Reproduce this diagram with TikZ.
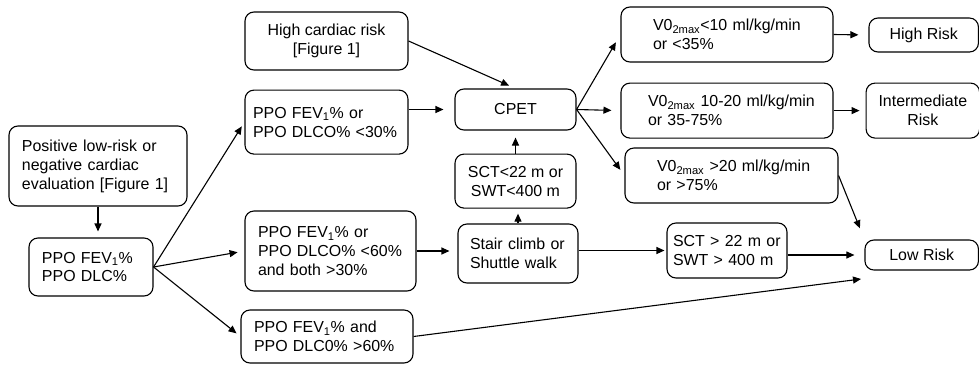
\documentclass[tikz,border=0pt]{standalone}
\usepackage{fontspec}
\setmainfont{Liberation Sans}
\usetikzlibrary{arrows.meta}
\usetikzlibrary{positioning}

\tikzset{
  box/.style={draw, rounded corners=9bp, line width=1.1bp, inner ysep=0bp,
    font=\fontsize{16}{19}\selectfont},
  lbox/.style={box, align=left},
  cbox/.style={box, align=center},
  flow/.style={-{Triangle[length=8bp,width=7bp]}, line width=1.1bp},
}

\begin{document}
\begin{tikzpicture}[x=1bp, y=-1bp]
    \useasboundingbox (0,0) rectangle (979,364);

    % left column
    \node[lbox, inner xsep=13bp, text width=152bp, minimum height=80bp] (pos) at (98,166)
      {Positive low-risk or\\negative cardiac\\evaluation [Figure 1]};
    \node[lbox, inner xsep=13bp, text width=98bp, minimum height=58bp] (ppo) at (91,267)
      {PPO FEV\textsubscript{1}\%\\PPO DLC\%};

    % split by PPO values
    \node[cbox, minimum width=163bp, minimum height=58bp] (hcr) at (326.5,41)
      {High cardiac risk\\{[Figure 1]}};
    \node[lbox, inner xsep=8bp, text width=147bp, minimum height=64bp, below=19bp of hcr] (low30)
      {PPO FEV\textsubscript{1}\% or\\PPO DLCO\% <30\%};
    \node[lbox, inner xsep=13bp, text width=145bp, minimum height=80bp] (lt60) at (330.5,251)
      {PPO FEV\textsubscript{1}\% or\\PPO DLCO\% <60\%\\and both >30\%};
    \node[lbox, inner xsep=13bp, text width=146bp, minimum height=53bp] (gt60) at (327,336.5)
      {PPO FEV\textsubscript{1}\% and\\PPO DLC0\% >60\%};

    % exercise tests
    \node[cbox, minimum width=121bp, minimum height=41bp] (cpet) at (515.5,109.5) {CPET};
    \node[cbox, minimum width=121bp, minimum height=54bp, below=23bp of cpet] (sctlt)
      {SCT<22 m or\\SWT<400 m};
    \node[lbox, inner xsep=12bp, text width=96bp, minimum height=59bp] (stair) at (518,253.5)
      {Stair climb or\\Shuttle walk};
    \node[lbox, inner xsep=6bp, text width=108bp, minimum height=55bp] (sctgt) at (727,250.5)
      {SCT > 22 m or\\SWT > 400 m};

    % VO2 results (lines kept whole)
    \node[lbox, inner xsep=32bp, text width=148bp, minimum height=55bp] (v1) at (727,34.5)
      {\mbox{V0\textsubscript{2max}<10 ml/kg/min}\\or <35\%};
    \node[lbox, inner xsep=27bp, text width=158bp, minimum height=55bp, below=20bp of v1] (v2)
      {\mbox{V0\textsubscript{2max} 10-20 ml/kg/min}\\or 35-75\%};
    \node[lbox, inner xsep=32bp, text width=149bp, minimum height=55bp] (v3) at (731.5,175.5)
      {\mbox{V0\textsubscript{2max} >20 ml/kg/min}\\or >75\%};

    % risk
    \node[cbox, minimum width=109.5bp, minimum height=34bp] (high) at (923.7,35) {High Risk};
    \node[cbox, minimum width=113.5bp, minimum height=55bp, right=32bp of v2] (inter)
      {Intermediate\\Risk};
    \node[cbox, minimum width=113.5bp, minimum height=30bp] (lowr) at (921.7,255) {Low Risk};
    \coordinate (lowin) at (861,279);

    \draw[flow, shorten >=6bp] (pos) -- (pos |- ppo.north);
    \draw[flow, shorten >=5bp] (ppo.east) -- (low30.west);
    \draw[flow, shorten >=7bp] (ppo.east) -- (lt60.west);
    \draw[flow, shorten >=5bp] (ppo.east) -- (gt60.west);
    \draw[flow, shorten >=7bp] (hcr.east) -- (cpet.north);
    \draw[flow, shorten >=11bp] (low30.east |- cpet) -- (cpet.west);
    \draw[flow, shorten >=7bp] (sctlt) -- (cpet);
    \draw[flow, shorten >=5bp] (stair.north) -- (stair.north |- sctlt.south);
    \draw[flow, shorten >=8bp] (lt60.east) -- (lt60.east -| stair.west);
    \draw[flow, shorten >=2bp] (stair.east |- sctgt) -- (sctgt.west);
    \draw[flow, shorten >=10bp] (sctgt.east |- lowr) -- (lowr.west);
    \draw[flow] (gt60.east) -- (lowin);
    \draw[flow, shorten >=12bp] (v3.east) -- (lowr.north west);
    \draw[flow, shorten >=9bp] (cpet.east) -- (v1.west);
    \draw[flow, shorten >=9bp] (cpet.east) -- (v2.west);
    \draw[flow, shorten >=7bp] (cpet.east) -- (v3.west);
    \draw[flow, shorten >=10bp] (v1.east) -- (high.west);
    \draw[flow, shorten >=6bp] (v2) -- (inter);
\end{tikzpicture}
\end{document}
